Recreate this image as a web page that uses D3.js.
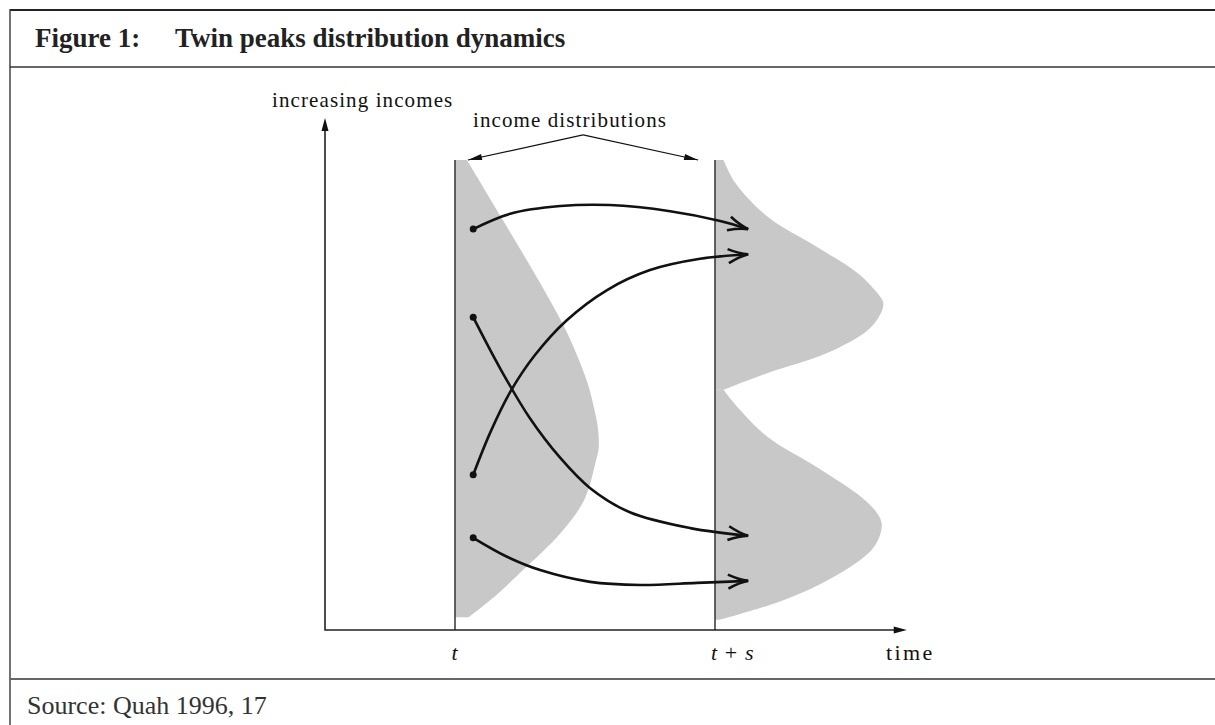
<!DOCTYPE html>
<html>
<head>
<meta charset="utf-8">
<script src="https://cdn.jsdelivr.net/npm/d3@7"></script>
<style>
  html, body { margin: 0; padding: 0; background: #fff; }
  svg { display: block; }
</style>
</head>
<body>
<script>
const width = 1215;
const height = 725;

// title / source
const figureNumber = "Figure 1:";
const figureTitle = "Twin peaks distribution dynamics";
const sourceText = "Source: Quah 1996, 17";

// axis labels
const yLabel = "increasing incomes";
const xLabel = "time";
const pointerLabel = "income distributions";

// time points where the distributions are observed
const timePoints = [
  { time: 2, parts: [["t", "italic"]] },
  { time: 6, parts: [["t", "italic"], [" + ", "normal"], ["s", "italic"]] }
];

// income distribution at t: [income, density]
const densityAtT = [
  [9.18, 0.07], [8.07, 0.27], [6.78, 0.5], [5.8, 0.66], [4.82, 0.78],
  [4.3, 0.82], [3.96, 0.84], [3.55, 0.845], [3.32, 0.83], [2.54, 0.76],
  [1.89, 0.62], [1.17, 0.4], [0.59, 0.21], [0.25, 0.08]
];

// income distribution at t + s, upper peak: [income, density]
const upperPeakAtTs = [
  [9.18, 0.05], [8.73, 0.12], [8.07, 0.31], [7.48, 0.6], [6.97, 0.84],
  [6.6, 0.95], [6.39, 0.99], [6.15, 0.97], [5.86, 0.9], [5.41, 0.66],
  [5.02, 0.31], [4.69, 0.05]
];

// income distribution at t + s, lower peak: [income, density]
const lowerPeakAtTs = [
  [4.69, 0.05], [4.4, 0.12], [3.77, 0.31], [3.18, 0.6], [2.6, 0.86],
  [2.3, 0.95], [2.09, 0.98], [1.85, 0.97], [1.56, 0.92], [1.04, 0.7],
  [0.59, 0.41], [0.2, 0.03]
];

// transitions of single economies: [time, income]
const transitions = [
  [[2.28, 7.83], [2.85, 8.13], [3.62, 8.28], [4.38, 8.3], [5.31, 8.18], [6.08, 7.99], [6.51, 7.83]],
  [[2.28, 3.03], [2.54, 3.85], [2.85, 4.65], [3.23, 5.37], [3.72, 6.05], [4.34, 6.64], [5.0, 7.03], [5.77, 7.25], [6.51, 7.34]],
  [[2.28, 6.11], [2.69, 5.12], [3.15, 4.14], [3.62, 3.36], [4.08, 2.77], [4.69, 2.3], [5.62, 1.99], [6.51, 1.84]],
  [[2.28, 1.8], [2.8, 1.43], [3.31, 1.17], [4.08, 0.94], [4.85, 0.88], [5.72, 0.92], [6.51, 0.96]]
];

// pointer from the label to the two distributions: [time, income]
const pointerApex = [3.97, 9.67];
const pointerTargets = [[2.2, 9.18], [5.74, 9.18]];

const distTop = 9.18;

// scales
const xScale = d3.scaleLinear().domain([0, 9]).range([325, 910]);
const yScale = d3.scaleLinear().domain([0, 10]).range([630, 118]);
const densityScale = d3.scaleLinear().domain([0, 1]).range([0, 170]);

const svg = d3
  .select("body")
  .append("svg")
  .attr("width", width)
  .attr("height", height);

const serif = "'Liberation Serif', 'Times New Roman', serif";

// Frame ////////////////////////////////
const frame = svg.append("g");
frame.append("line")
  .attr("x1", 10).attr("x2", width).attr("y1", 10).attr("y2", 10)
  .style("stroke", "#222").style("stroke-width", 2);
frame.append("line")
  .attr("x1", 10).attr("x2", 10).attr("y1", 9).attr("y2", height)
  .style("stroke", "#444").style("stroke-width", 1.5);
frame.append("line")
  .attr("x1", 10).attr("x2", width).attr("y1", 67).attr("y2", 67)
  .style("stroke", "#333").style("stroke-width", 1.5);
frame.append("line")
  .attr("x1", 10).attr("x2", width).attr("y1", 679).attr("y2", 679)
  .style("stroke", "#666").style("stroke-width", 2);

frame.append("text")
  .attr("x", 35).attr("y", 47)
  .style("font-family", serif).style("font-weight", "bold")
  .style("font-size", "27px").style("fill", "#222")
  .text(figureNumber);
frame.append("text")
  .attr("x", 175).attr("y", 47)
  .style("font-family", serif).style("font-weight", "bold")
  .style("font-size", "27px").style("fill", "#222")
  .text(figureTitle);
frame.append("text")
  .attr("x", 27).attr("y", 714)
  .style("font-family", serif)
  .style("font-size", "26px").style("fill", "#333")
  .text(sourceText);

const chart = svg.append("g");

// Distributions ////////////////////////
const drawDistribution = (data, time) => {
  const base = xScale(time);
  const area = d3.area()
    .y(d => yScale(d[0]))
    .x0(base)
    .x1(d => base + densityScale(d[1]))
    .curve(d3.curveCatmullRom.alpha(0.5));
  chart.append("path")
    .datum(data)
    .attr("d", area)
    .style("fill", "#c8c8c8")
    .style("stroke", "none");
};

drawDistribution(densityAtT, timePoints[0].time);
drawDistribution(upperPeakAtTs, timePoints[1].time);
drawDistribution(lowerPeakAtTs, timePoints[1].time);

// vertical lines at t and t + s
timePoints.forEach(tp => {
  chart.append("line")
    .attr("x1", xScale(tp.time)).attr("x2", xScale(tp.time))
    .attr("y1", yScale(distTop)).attr("y2", yScale(0))
    .style("stroke", "#333").style("stroke-width", 1.5);
});

// Axes /////////////////////////////////
const filledHead = (tip, from, len, half) => {
  const dx = tip[0] - from[0];
  const dy = tip[1] - from[1];
  const l = Math.hypot(dx, dy);
  const ux = dx / l, uy = dy / l;
  const bx = tip[0] - ux * len, by = tip[1] - uy * len;
  return `M${tip[0]},${tip[1]}L${bx - uy * half},${by + ux * half}L${bx + uy * half},${by - ux * half}Z`;
};

const origin = [xScale(0), yScale(0)];
const yEnd = [xScale(0), yScale(10)];
const xEnd = [xScale(8.95), yScale(0)];

chart.append("path")
  .attr("d", `M${yEnd[0]},${yEnd[1] + 6}L${origin[0]},${origin[1]}L${xEnd[0] - 6},${xEnd[1]}`)
  .style("fill", "none").style("stroke", "#222").style("stroke-width", 1.6);
chart.append("path")
  .attr("d", filledHead(yEnd, origin, 13, 3.5))
  .style("fill", "#111");
chart.append("path")
  .attr("d", filledHead(xEnd, origin, 13, 3.5))
  .style("fill", "#111");

const labelStyle = sel => sel
  .style("font-family", serif)
  .style("font-size", "21px")
  .style("letter-spacing", "1.1px")
  .style("fill", "#111");

chart.append("text")
  .attr("x", xScale(0) - 53).attr("y", yScale(10) - 11)
  .call(labelStyle)
  .text(yLabel);

chart.append("text")
  .attr("x", xScale(8.63)).attr("y", 660)
  .call(labelStyle)
  .style("font-size", "22px")
  .style("letter-spacing", "2.4px")
  .text(xLabel);

timePoints.forEach((tp, i) => {
  const txt = chart.append("text")
    .attr("x", xScale(tp.time) + (i === 0 ? 0 : -4))
    .attr("y", 660)
    .attr("text-anchor", i === 0 ? "middle" : "start")
    .call(labelStyle)
    .style("font-size", "22px");
  tp.parts.forEach(p => {
    txt.append("tspan").style("font-style", p[1]).text(p[0]);
  });
});

// label pointing at the distributions
chart.append("text")
  .attr("x", xScale(pointerApex[0]) - 13).attr("y", yScale(pointerApex[1]) - 8)
  .attr("text-anchor", "middle")
  .call(labelStyle)
  .text(pointerLabel);

pointerTargets.forEach(target => {
  const a = [xScale(pointerApex[0]), yScale(pointerApex[1])];
  const b = [xScale(target[0]), yScale(target[1])];
  chart.append("line")
    .attr("x1", a[0]).attr("y1", a[1]).attr("x2", b[0]).attr("y2", b[1])
    .style("stroke", "#111").style("stroke-width", 1.2);
  chart.append("path")
    .attr("d", filledHead(b, a, 14, 3))
    .style("fill", "#111");
});

// Transitions //////////////////////////
const line = d3.line()
  .x(d => xScale(d[0]))
  .y(d => yScale(d[1]))
  .curve(d3.curveCatmullRom.alpha(0.5));

transitions.forEach(path => {
  chart.append("path")
    .datum(path)
    .attr("d", line)
    .style("fill", "none")
    .style("stroke", "#111")
    .style("stroke-width", 2.6);

  const start = path[0];
  chart.append("circle")
    .attr("cx", xScale(start[0]))
    .attr("cy", yScale(start[1]))
    .attr("r", 3.5)
    .style("fill", "#111");

  // open arrow head
  const tip = path[path.length - 1];
  const prev = path[path.length - 2];
  const tx = xScale(tip[0]), ty = yScale(tip[1]);
  const dx = tx - xScale(prev[0]), dy = ty - yScale(prev[1]);
  const l = Math.hypot(dx, dy);
  const ux = dx / l, uy = dy / l;
  const len = 20, half = 7;
  const bx = tx - ux * len, by = ty - uy * len;
  const p1 = [bx - uy * half, by + ux * half];
  const p2 = [bx + uy * half, by - ux * half];
  const c1 = [tx - ux * 9 - uy * 1.5, ty - uy * 9 + ux * 1.5];
  const c2 = [tx - ux * 9 + uy * 1.5, ty - uy * 9 - ux * 1.5];
  chart.append("path")
    .attr("d", `M${p1[0]},${p1[1]}Q${c1[0]},${c1[1]} ${tx},${ty}Q${c2[0]},${c2[1]} ${p2[0]},${p2[1]}`)
    .style("fill", "none")
    .style("stroke", "#111")
    .style("stroke-width", 2.6)
    .style("stroke-linejoin", "miter");
});
</script>
</body>
</html>
